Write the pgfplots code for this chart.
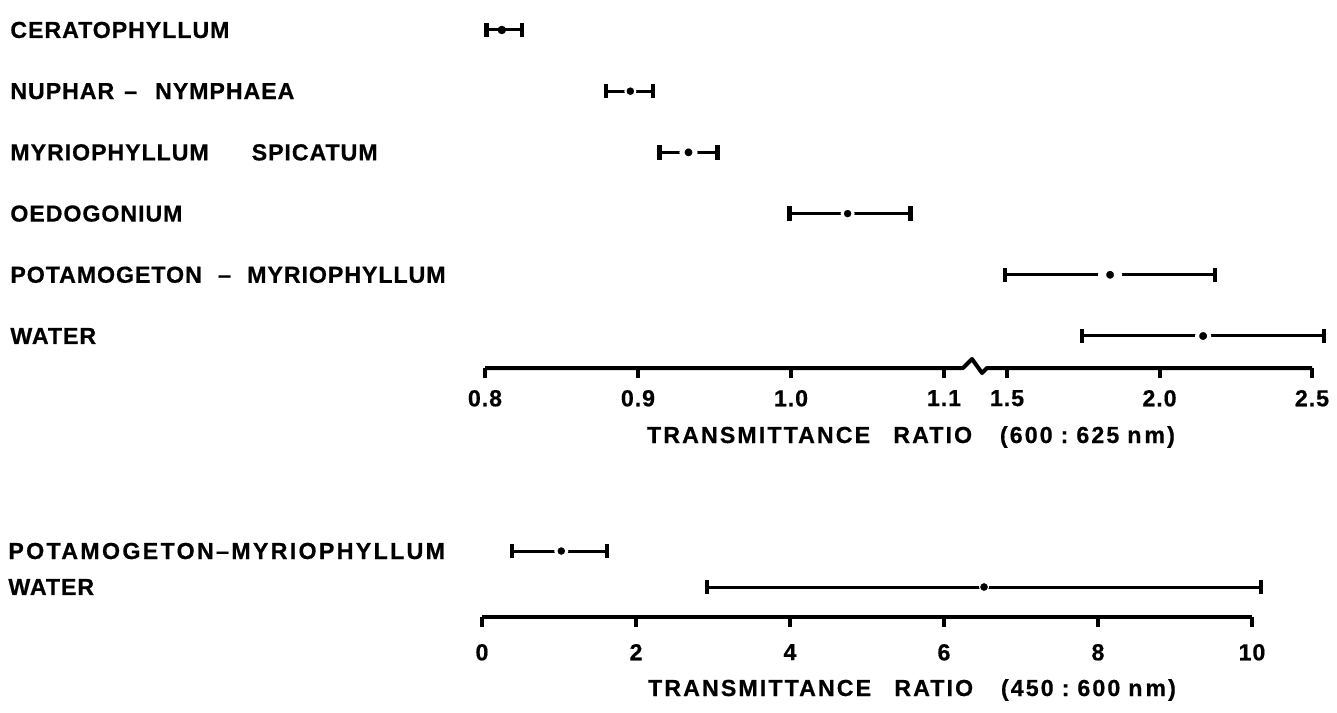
\documentclass[border=0pt]{standalone}
\usepackage{fontspec}
\setmainfont{Liberation Sans}
\newfontfamily\lt{Liberation Sans}[LetterSpace=4, BoldFeatures={FakeBold=0.6}]
\newfontfamily\ltw{Liberation Sans}[LetterSpace=9, BoldFeatures={FakeBold=0.6}]
\newfontfamily\ltx{Liberation Sans}[LetterSpace=10, BoldFeatures={FakeBold=0.6}]
\usepackage{pgfplots}
\pgfplotsset{compat=1.18}
\newcommand\lbl{\lt\bfseries\fontsize{11.6}{13}\selectfont}
\newcommand\ttl{\ltw\bfseries\fontsize{11.6}{13}\selectfont}

\begin{document}
\begin{tikzpicture}
\path[use as bounding box] (-242.5pt,-172pt) rectangle (426pt,184pt);
% ---------------- upper panel (600:625 nm), broken axis ----------------
\begin{axis}[
  at={(0pt,0pt)}, anchor=south west,
  x=76.5pt, y=30.6pt,
  x coord trafo/.code={\pgfmathparse{ifthenelse(#1<1.3,(#1-0.8)*10,3.412+(#1-1.5)*1.993)}},
  xmin=0.8, xmax=2.5, ymin=0.477, ymax=6.49,
  clip=false,
  axis x line*=bottom, axis y line*=left,
  x axis line style={draw=none}, y axis line style={draw=none},
  xtick={0.8,0.9,1.0,1.1,1.5,2.0,2.5},
  xticklabels={0.8,0.9,1.0,1.1,1.5,2.0,2.5},
  xtick align=outside, major tick length=5pt,
  xtick style={line width=2pt, black},
  ytick={1,2,3,4,5,6},
  yticklabels={WATER, POTAMOGETON\hspace{0.7em}–\hspace{0.7em}MYRIOPHYLLUM, OEDOGONIUM, MYRIOPHYLLUM\hspace{1.85em}SPICATUM, NUPHAR\hspace{5pt}–\hspace{9pt}NYMPHAEA, CERATOPHYLLUM},
  ytick style={draw=none},
  yticklabel style={anchor=west, inner sep=0pt, xshift=-237.5pt},
  ticklabel style={font=\lbl},
  xticklabel style={inner sep=0pt, anchor=north, yshift=-5.85pt},
  xlabel={TRANSMITTANCE\hspace{1em}RATIO\hspace{1.2em}(600\hspace{4pt}:\hspace{4pt}625\hspace{4pt}n\hspace{1.5pt}m)},
  xlabel style={font=\ttl, at={(axis description cs:0.5,0)}, anchor=center, yshift=-34.5pt, xshift=6.25pt},
]
% range bars (low, high) and means
\addplot[line width=1.5pt, mark=|, mark size=3.6pt, mark options={line width=2.2pt}] coordinates {(0.801,6) (0.824,6)};
\addplot[only marks, black, mark=*, mark size=1.9pt] coordinates {(0.811,6)};

\addplot[line width=1.5pt, mark=|, mark size=3.6pt, mark options={line width=2.2pt}] coordinates {(0.879,5) (0.910,5)};
\addplot[only marks, mark=*, mark size=2.5pt, mark options={fill=black, draw=white, line width=1pt}] coordinates {(0.895,5)};

\addplot[line width=1.5pt, mark=|, mark size=3.6pt, mark options={line width=2.2pt}] coordinates {(0.914,4) (0.952,4)};
\addplot[only marks, mark=*, mark size=3.25pt, mark options={fill=black, draw=white, line width=2.5pt}] coordinates {(0.933,4)};

\addplot[line width=1.5pt, mark=|, mark size=3.6pt, mark options={line width=2.2pt}] coordinates {(0.999,3) (1.078,3)};
\addplot[only marks, mark=*, mark size=2.75pt, mark options={fill=black, draw=white, line width=1.5pt}] coordinates {(1.037,3)};

\addplot[line width=1.5pt, mark=|, mark size=3.6pt, mark options={line width=2.2pt}] coordinates {(1.493,2) (2.182,2)};
\addplot[only marks, mark=*, mark size=4pt, mark options={fill=black, draw=white, line width=4pt}] coordinates {(1.838,2)};

\addplot[line width=1.5pt, mark=|, mark size=3.6pt, mark options={line width=2.2pt}] coordinates {(1.746,1) (2.539,1)};
\addplot[only marks, mark=*, mark size=3pt, mark options={fill=black, draw=white, line width=2pt}] coordinates {(2.143,1)};
\end{axis}
% broken axis line with the break wiggle
\draw[line width=2pt, line join=round] (0,0) -- (239pt,0) -- (243.5pt,4.5pt) -- (248.5pt,-2.5pt) -- (251pt,0) -- (413.5pt,0);

% ---------------- lower panel (450:600 nm) ----------------
\begin{axis}[
  at={(-1.5pt,-124.5pt)}, anchor=south west,
  x=38.5pt, y=18pt,
  xmin=0, xmax=10, ymin=0.167, ymax=2.6,
  clip=false,
  axis x line*=bottom, axis y line*=left,
  x axis line style={line width=2pt}, y axis line style={draw=none},
  xtick={0,2,4,6,8,10},
  xticklabels={0,2,4,6,8,10},
  xtick align=outside, major tick length=5pt,
  xtick style={line width=2pt, black},
  ytick={1,2},
  yticklabels={WATER, {\ltx\bfseries POTAMOGETON–MYRIOPHYLLUM}},
  ytick style={draw=none},
  yticklabel style={anchor=west, inner sep=0pt, xshift=-237pt},
  ticklabel style={font=\lbl},
  xticklabel style={inner sep=0pt, anchor=north, yshift=-8.35pt},
  xlabel={TRANSMITTANCE\hspace{1em}RATIO\hspace{1.2em}(450\hspace{4pt}:\hspace{4pt}600\hspace{4pt}n\hspace{1.5pt}m)},
  xlabel style={font=\ttl, at={(axis description cs:0.5,0)}, anchor=center, yshift=-36.5pt, xshift=22.5pt},
]
\addplot[line width=1.5pt, mark=|, mark size=3.6pt, mark options={line width=2.2pt}] coordinates {(0.39,2) (1.62,2)};
\addplot[only marks, mark=*, mark size=2.75pt, mark options={fill=black, draw=white, line width=1.5pt}] coordinates {(1.03,2)};

\addplot[line width=1.5pt, mark=|, mark size=3.6pt, mark options={line width=2.2pt}] coordinates {(2.92,1) (10.12,1)};
\addplot[only marks, mark=*, mark size=2.25pt, mark options={fill=black, draw=white, line width=0.5pt}] coordinates {(6.52,1)};
\end{axis}
\end{tikzpicture}
\end{document}
